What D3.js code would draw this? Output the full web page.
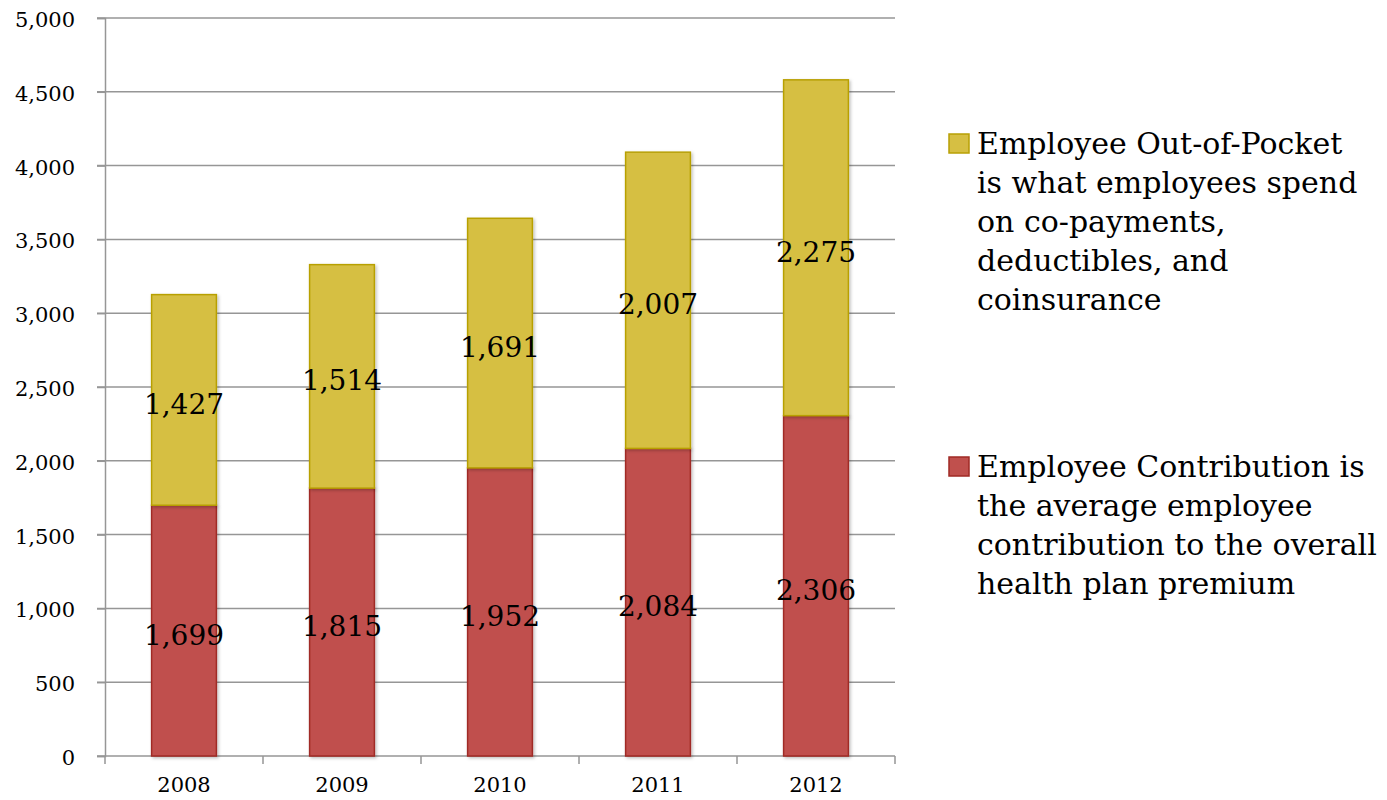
<!DOCTYPE html>
<html>
<head>
<meta charset="utf-8">
<script src="https://cdn.jsdelivr.net/npm/d3@7"></script>
<style>
  html, body { margin: 0; padding: 0; background: #fff; }
  svg { display: block; font-family: Georgia, "DejaVu Serif", serif; }
</style>
</head>
<body>
<svg id="chart" width="1387" height="800"></svg>
<script>
// Average employee health-care cost, stacked by component
const years = ["2008", "2009", "2010", "2011", "2012"];
const contribution = [1699, 1815, 1952, 2084, 2306];
const outOfPocket = [1427, 1514, 1691, 2007, 2275];
const yTicks = [0, 500, 1000, 1500, 2000, 2500, 3000, 3500, 4000, 4500, 5000];
const seriesNames = ["Employee Contribution", "Employee Out-of-Pocket"];
const legendLines = {
  "Employee Out-of-Pocket": ["Employee Out-of-Pocket", "is what employees spend", "on co-payments,", "deductibles, and", "coinsurance"],
  "Employee Contribution": ["Employee Contribution is", "the average employee", "contribution to the overall", "health plan premium"]
};

const colors = {
  "Employee Contribution": { fill: "#c0504d", stroke: "#a02a25" },
  "Employee Out-of-Pocket": { fill: "#d6bf43", stroke: "#b8a005" }
};

const svg = d3.select("#chart");
const plot = { left: 105, right: 895, top: 18, bottom: 756 };

const x = d3.scaleBand().domain(years).range([plot.left, plot.right]).paddingInner(0.59).paddingOuter(0.295);
const y = d3.scaleLinear().domain([0, 5000]).range([plot.bottom, plot.top]);

const rows = years.map((yr, i) => ({ year: yr, "Employee Contribution": contribution[i], "Employee Out-of-Pocket": outOfPocket[i] }));
const stacked = d3.stack().keys(seriesNames)(rows);

// gridlines
svg.append("g").selectAll("line").data(yTicks.filter(d => d > 0)).join("line")
  .attr("x1", plot.left - 8).attr("x2", plot.right)
  .attr("y1", d => y(d)).attr("y2", d => y(d))
  .attr("stroke", "#969696").attr("stroke-width", 1.5);

// y axis
const yAxis = svg.append("g").attr("transform", `translate(${plot.left},0)`)
  .call(d3.axisLeft(y).tickValues(yTicks).tickSize(8).tickPadding(22).tickFormat(d3.format(",")));
yAxis.attr("font-size", 21).attr("font-family", "Georgia, 'DejaVu Serif', serif");
yAxis.select(".domain").attr("stroke", "#969696").attr("stroke-width", 1.5);
yAxis.selectAll(".tick line").attr("stroke", "#969696").attr("stroke-width", 1.5);
yAxis.selectAll("text").attr("fill", "#000").attr("dy", "0.4em");

// x axis with ticks at category boundaries
const bounds = years.map(yr => x(yr) - x.step() * x.paddingInner() / 2).concat([plot.right]);
const xg = svg.append("g");
xg.append("line").attr("x1", plot.left - 8).attr("x2", plot.right).attr("y1", plot.bottom).attr("y2", plot.bottom)
  .attr("stroke", "#969696").attr("stroke-width", 1.5);
xg.selectAll("line.tk").data(bounds).join("line").attr("class", "tk")
  .attr("x1", d => d).attr("x2", d => d).attr("y1", plot.bottom).attr("y2", plot.bottom + 8)
  .attr("stroke", "#969696").attr("stroke-width", 1.5);
xg.selectAll("text").data(years).join("text")
  .attr("x", d => x(d) + x.bandwidth() / 2).attr("y", 792)
  .attr("text-anchor", "middle").attr("font-size", 21).attr("fill", "#000").text(d => d);

// soft shadow under bars
const defs = svg.append("defs");
const f = defs.append("filter").attr("id", "shadow").attr("x", "-20%").attr("y", "-5%").attr("width", "140%").attr("height", "110%");
f.append("feDropShadow").attr("dx", 1.5).attr("dy", 1.5).attr("stdDeviation", 1.5).attr("flood-color", "#000").attr("flood-opacity", 0.25);

// bars
const layers = svg.append("g").selectAll("g").data(stacked).join("g");
layers.selectAll("rect").data(s => s.map(d => ({ d, key: s.key }))).join("rect")
  .attr("x", o => x(o.d.data.year)).attr("width", x.bandwidth())
  .attr("y", o => y(o.d[1])).attr("height", o => y(o.d[0]) - y(o.d[1]))
  .attr("fill", o => colors[o.key].fill).attr("stroke", o => colors[o.key].stroke).attr("stroke-width", 1.5)
  .attr("filter", "url(#shadow)");

// value labels
const labels = svg.append("g");
stacked.forEach(s => {
  labels.selectAll(null).data(s).join("text")
    .attr("x", d => x(d.data.year) + x.bandwidth() / 2)
    .attr("y", d => y((d[0] + d[1]) / 2))
    .attr("dy", "0.5em")
    .attr("text-anchor", "middle").attr("font-size", 28).attr("fill", "#000")
    .text(d => d3.format(",")(d[1] - d[0]));
});

// legend
const legendItems = [
  { key: "Employee Out-of-Pocket", top: 143 },
  { key: "Employee Contribution", top: 466 }
];
const lg = svg.append("g");
legendItems.forEach(item => {
  lg.append("rect").attr("x", 949).attr("y", item.top - 9).attr("width", 20).attr("height", 19)
    .attr("fill", colors[item.key].fill).attr("stroke", colors[item.key].stroke).attr("stroke-width", 1.5);
  const t = lg.append("text").attr("x", 977).attr("y", item.top).attr("font-size", 30).attr("fill", "#000");
  legendLines[item.key].forEach((ln, i) => {
    t.append("tspan").attr("x", 977).attr("y", item.top + i * 39).attr("dy", "0.35em").text(ln);
  });
});
</script>
</body>
</html>
